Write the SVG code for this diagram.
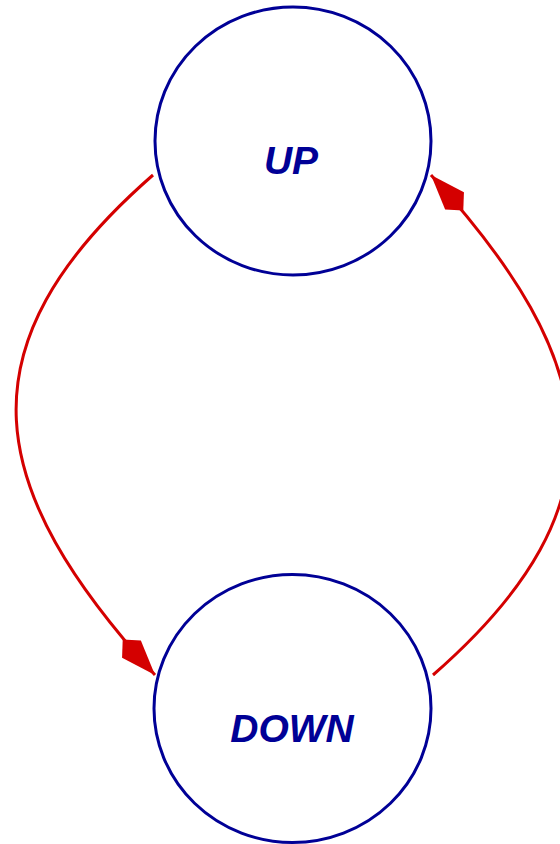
<svg xmlns="http://www.w3.org/2000/svg" width="560" height="844" viewBox="0 0 560 844">
<style>
.node{fill:#ffffff;stroke:#000096;stroke-width:3}
.label{font-family:"Liberation Sans",Arial,sans-serif;font-weight:bold;font-style:italic;font-size:39px;fill:#000096;text-anchor:middle}
.edge{fill:none;stroke:#d40000;stroke-width:3}
</style>
<defs>
<marker id="kite" markerUnits="userSpaceOnUse" viewBox="-50 -15 52 30" refX="0" refY="0" markerWidth="52" markerHeight="30" orient="auto">
<path d="M0,0 L-35,-12.7 L-48,0 L-35,12.7 Z" fill="#d40000"/>
</marker>
</defs>
<rect width="560" height="844" fill="#ffffff"/>
<g id="edges">
<path id="up-down" class="edge" d="M153,175 C-45,348 -14,489 155,675" marker-end="url(#kite)"/>
<path id="down-up" class="edge" d="M433,675 C631,502 600,361 431,175" marker-end="url(#kite)"/>
</g>
<g id="node-up">
<ellipse class="node" cx="293" cy="141" rx="138" ry="134"/>
<text class="label" x="291" y="174">UP</text>
</g>
<g id="node-down">
<ellipse class="node" cx="292.5" cy="708.5" rx="138.5" ry="134"/>
<text class="label" x="292" y="742">DOWN</text>
</g>
</svg>
